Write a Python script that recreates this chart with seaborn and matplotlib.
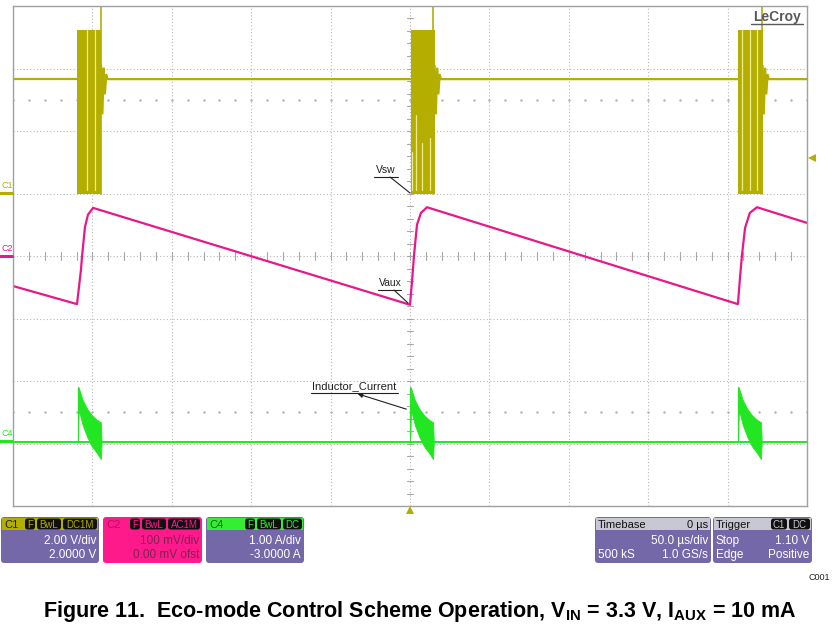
import seaborn as sns
import matplotlib.pyplot as plt
from matplotlib.patches import FancyBboxPatch, Rectangle, Polygon

sns.set_style("white")
plt.rcParams['font.family'] = ['Liberation Sans', 'DejaVu Sans']
plt.rcParams['mathtext.fontset'] = 'custom'
plt.rcParams['mathtext.rm'] = 'Liberation Sans:bold'
plt.rcParams['mathtext.default'] = 'rm'

# colours of the scope channels
olive = '#b4ae00'
magenta = '#e8178a'
green = '#22e622'
purple = '#7468a8'

# ---- data (time in us, 50 us/div; amplitude in divisions) ----
# C1 Vsw: idle level, burst window and switching levels
vsw_idle = 2.83
vsw_high = 3.62
vsw_low = 1.0
burst_start = [-209.5, 0.5, 206.5]
burst_end = [-194.5, 15.5, 222.0]
spike_t = [-194.8, 14.5, 221.5]
ring_dt = [0.0, 0.8, 1.6, 2.4, 3.2, 4.0]
ring_v = [3.05, 2.28, 3.0, 2.6, 2.9, 2.83]
# lighter strands seen inside each burst (time, top level)
strand_t = [-203.4, -198.4, 1.5, 3.5, 7.3, 12.5, 209.0, 214.0, 218.5]
strand_top = [3.62, 3.62, 1.67, 2.26, 1.81, 1.89, 3.62, 3.62, 3.62]

# C2 Vaux (AC, 100 mV/div)
vaux_t = [-250, -209.7, -207.2, -206.5, -204.7, -202.8, -199.6,
          0.0, 1.3, 2.5, 4.4, 6.9, 10.7,
          206.5, 207.8, 209.0, 211.0, 214.0, 218.5, 250]
vaux_v = [-0.48, -0.77, -0.22, 0.0, 0.46, 0.66, 0.77,
          -0.78, -0.40, 0.0, 0.50, 0.69, 0.78,
          -0.77, -0.35, 0.0, 0.45, 0.69, 0.78, 0.53]

# C4 inductor current (1 A/div, offset -3 A)
il_base = -2.98
il_start = [-209.2, 0.0, 206.5]
il_dt = [0.0, 0.5, 3.0, 6.0, 9.0, 12.0, 14.5, 15.0]
il_upper = [-2.98, -2.1, -2.3, -2.45, -2.55, -2.62, -2.66, -2.98]
il_lower = [-2.98, -2.45, -2.7, -2.9, -3.05, -3.15, -3.25, -2.98]

fig = plt.figure(figsize=(8.33, 6.24), dpi=100)
W, H = 833, 624
ax = fig.add_axes([13 / W, (H - 506) / H, 794 / W, 500 / H])
ax.set_xlim(-250, 250)
ax.set_ylim(-4, 4)

# grid
for gx in range(-200, 250, 50):
    ax.axvline(gx, color='#b8b8b8', lw=0.8, ls=(0, (1, 2)), zorder=0)
for gy in range(-3, 4):
    ax.axhline(gy, color='#b8b8b8', lw=0.8, ls=(0, (1, 2)), zorder=0)
for tx in range(-250, 251, 10):
    ax.plot([tx, tx], [-0.06, 0.06], color='#a8a8a8', lw=0.8, zorder=0)
    for ry in (2.5, -2.5):
        ax.plot([tx], [ry], marker='.', ms=1.5, color='#b0b0b0', zorder=0)
for k in range(-20, 21):
    ax.plot([-2.0, 2.0], [k * 0.2, k * 0.2], color='#a8a8a8', lw=0.8, zorder=0)
for s in ax.spines.values():
    s.set_color('#a0a0a0')
    s.set_linewidth(1.0)
ax.set_xticks([])
ax.set_yticks([])

# C1 trace
vsw_t, vsw_v = [-250], [vsw_idle]
for s, e in zip(burst_start, burst_end):
    vsw_t += [s, s]
    vsw_v += [vsw_idle, None]
    vsw_t += [e + d for d in ring_dt]
    vsw_v += ring_v
vsw_t.append(250)
vsw_v.append(vsw_idle)
segs = []
cur_t, cur_v = [], []
for t, v in zip(vsw_t, vsw_v):
    if v is None:
        segs.append((cur_t, cur_v))
        cur_t, cur_v = [], []
    else:
        cur_t.append(t)
        cur_v.append(v)
segs.append((cur_t, cur_v))
for st, sv in segs:
    sns.lineplot(x=st, y=sv, ax=ax, color=olive, lw=1.6, sort=False, estimator=None)
for s, e in zip(burst_start, burst_end):
    ax.fill_between([s, e], [vsw_low, vsw_low], [vsw_high, vsw_high], color=olive, lw=0)
for t in spike_t:
    ax.plot([t, t], [vsw_low, 4.5], color=olive, lw=1.2)
for t, top in zip(strand_t, strand_top):
    ax.plot([t, t], [vsw_low + 0.05, top], color='#eeea90', lw=0.9)

# C2 trace
sns.lineplot(x=vaux_t, y=vaux_v, ax=ax, color=magenta, lw=1.6, sort=False, estimator=None)

# C4 trace
sns.lineplot(x=[-250, 250], y=[il_base, il_base], ax=ax, color=green, lw=1.4, estimator=None)
for st in il_start:
    tt = [st + d for d in il_dt]
    ax.fill_between(tt, il_lower, il_upper, color=green, lw=0.6, edgecolor=green)
    ax.plot([st, st], [il_base, -2.1], color=green, lw=0.8)

# ---- overlay in pixel coordinates ----
ov = fig.add_axes([0, 0, 1, 1], zorder=5)
ov.set_xlim(0, W)
ov.set_ylim(H, 0)
ov.axis('off')
ov.patch.set_alpha(0)

# channel markers on the left
for lab, yy, c in [('C1', 193, olive), ('C2', 256, magenta), ('C4', 441, green)]:
    ov.plot([0, 12], [yy, yy], color=c, lw=2.2)
    ov.text(1, yy - 3, lab, color=c, fontsize=6.5, va='bottom', ha='left')
ov.add_patch(Polygon([[808, 158], [816, 154], [816, 162]], closed=True, color=olive, lw=0))
ov.add_patch(Polygon([[410, 506], [406, 514], [414, 514]], closed=True, color=olive, lw=0))

# LeCroy logo
ov.text(777, 17, 'LeCroy', fontsize=10, weight='bold', color='#5a5a5a', ha='center', va='center')
ov.plot([751, 803], [24, 24], color='#5a5a5a', lw=1.0)

# trace labels
ov.text(386, 175, 'Vsw', fontsize=7.5, ha='center', va='bottom', color='#202020')
ov.plot([374, 398], [177, 177], color='#202020', lw=0.8)
ov.plot([390, 410], [177, 193], color='#202020', lw=0.8)
ov.text(390, 288, 'Vaux', fontsize=7.5, ha='center', va='bottom', color='#202020')
ov.plot([378, 401], [290, 290], color='#202020', lw=0.8)
ov.plot([394, 408], [290, 303], color='#202020', lw=0.8)
ov.text(354, 391, 'Inductor_Current', fontsize=8, ha='center', va='bottom', color='#202020')
ov.plot([311, 398], [393, 393], color='#202020', lw=0.8)
ov.annotate('', xy=(355, 393), xytext=(409, 410),
            arrowprops=dict(arrowstyle='-|>', color='#202020', lw=0.8, mutation_scale=7))


def badge(x0, x1, y, txt, fc, tc):
    ov.add_patch(FancyBboxPatch((x0, y - 5.5), x1 - x0, 11, boxstyle='round,pad=0,rounding_size=2.5',
                                fc=fc, ec='none'))
    ov.text((x0 + x1) / 2, y + 0.5, txt, fontsize=7, color=tc, ha='center', va='center')


def chan_box(x0, x1, head_c, body_c, name, name_c, badges, lines, text_c):
    ov.add_patch(FancyBboxPatch((x0, 517), x1 - x0, 46, boxstyle='round,pad=0,rounding_size=3',
                                fc=body_c, ec='none'))
    ov.add_patch(Rectangle((x0 + 1, 518), x1 - x0 - 2, 12, fc=head_c, ec='none'))
    ov.text(x0 + 3, 524.5, name, fontsize=8, color=name_c, ha='left', va='center')
    for bx0, bx1, bt in badges:
        badge(bx0, bx1, 524, bt, '#101010', head_c)
    for yy, left, right in lines:
        if left:
            ov.text(x0 + 3, yy, left, fontsize=8.5, color=text_c, ha='left', va='center')
        ov.text(x1 - 3, yy, right, fontsize=8.5, color=text_c, ha='right', va='center')


chan_box(1, 99, olive, purple, 'C1', '#202020',
         [(25, 35, 'F'), (37, 61, 'BwL'), (63, 97, 'DC1M')],
         [(541, None, '2.00 V/div'), (555, None, '2.0000 V')], 'white')
chan_box(103, 202, '#ff1a8c', '#ff1a8c', 'C2', '#b01060',
         [(130, 140, 'F'), (142, 166, 'BwL'), (168, 200, 'AC1M')],
         [(541, None, '100 mV/div'), (555, None, '0.00 mV ofst')], '#7a2452')
chan_box(206, 304, '#33ee33', purple, 'C4', '#106010',
         [(245, 255, 'F'), (257, 281, 'BwL'), (283, 302, 'DC')],
         [(541, None, '1.00 A/div'), (555, None, '-3.0000 A')], 'white')
chan_box(595, 711, '#c8c8d4', purple, 'Timebase', '#101010', [],
         [(541, None, '50.0 \u00b5s/div'), (555, '500 kS', '1.0 GS/s')], 'white')
ov.text(708, 524.5, '0 \u00b5s', fontsize=8, color='#101010', ha='right', va='center')
chan_box(713, 812, '#c8c8d4', purple, 'Trigger', '#101010',
         [(771, 787, 'C1'), (789, 810, 'DC')],
         [(541, 'Stop', '1.10 V'), (555, 'Edge', 'Positive')], 'white')

ov.text(830, 578, 'C001', fontsize=6.5, ha='right', va='center', color='#202020')

fig.text(420 / W, (H - 611) / H,
         r'Figure 11.  Eco-mode Control Scheme Operation, V$_{\rm IN}$ = 3.3 V, I$_{\rm AUX}$ = 10 mA',
         fontsize=15.5, weight='bold', ha='center', va='center', color='black')

fig.savefig('out.png', dpi=100)
